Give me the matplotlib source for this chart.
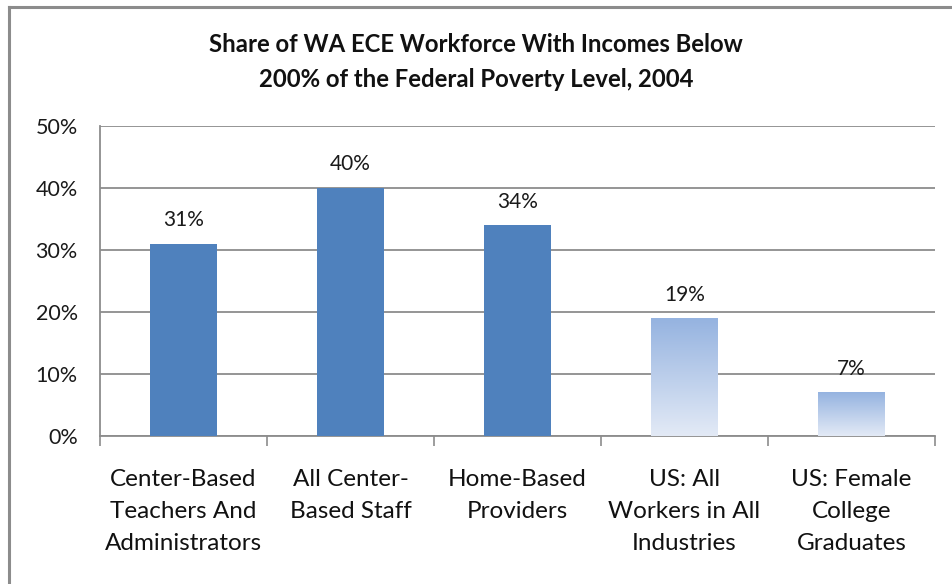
import matplotlib
matplotlib.use("Agg")
import matplotlib.pyplot as plt
import numpy as np
from matplotlib.lines import Line2D
from matplotlib.colors import LinearSegmentedColormap

plt.rcParams['font.family'] = ['Lato', 'DejaVu Sans']

categories = ["Center-Based\nTeachers And\nAdministrators", "All Center-\nBased Staff",
              "Home-Based\nProviders", "US: All\nWorkers in All\nIndustries",
              "US: Female\nCollege\nGraduates"]
values = [31, 40, 34, 19, 7]
gradient = [False, False, False, True, True]
yticks = [0, 10, 20, 30, 40, 50]
title = "Share of WA ECE Workforce With Incomes Below\n200% of the Federal Poverty Level, 2004"

fig = plt.figure(figsize=(9.52, 5.84), dpi=100)
ax = fig.add_axes([100/952, 1-436/584, 835/952, 310/584])

x = np.arange(len(categories))
bars = ax.bar(x, values, width=0.4, color="#4f81bd", zorder=3)
cmap = LinearSegmentedColormap.from_list("g", ["#e3eaf6", "#95b3e0"])
grad = np.linspace(0, 1, 256).reshape(-1, 1)
for b, g in zip(bars, gradient):
    if g:
        b.set_facecolor("none")
        b.set_edgecolor("none")
        x0, y0 = b.get_x(), b.get_y()
        ax.imshow(grad, extent=[x0, x0 + b.get_width(), y0, y0 + b.get_height()],
                  origin="lower", cmap=cmap, aspect="auto", zorder=3)

for xi, v in zip(x, values):
    ax.text(xi, v + 2.2, f"{v}%", ha="center", va="bottom", fontsize=15, color="#1a1a1a")

ax.set_xlim(-0.5, len(categories) - 0.5)
ax.set_ylim(0, 50)
ax.set_yticks(yticks)
ax.set_yticklabels([f"{t}%" for t in yticks], fontsize=15.5, color="#1a1a1a")
ax.set_xticks(x)
ax.set_xticklabels(categories, fontsize=17.5, color="#111111", linespacing=1.65)
ax.set_xticks(np.arange(-0.5, len(categories), 1.0), minor=True)
ax.tick_params(axis="x", which="major", length=0, pad=24)
ax.tick_params(axis="x", which="minor", length=7, width=1.2, color="#8c8c8c", direction="out")
ax.tick_params(axis="y", length=0, pad=16)
ax.grid(axis="y", color="#8c8c8c", linewidth=1.3, zorder=0)
for s in ["top", "right"]:
    ax.spines[s].set_visible(False)
ax.spines["left"].set_color("#8c8c8c")
ax.spines["left"].set_linewidth(1.3)
ax.spines["bottom"].set_color("#8c8c8c")
ax.spines["bottom"].set_linewidth(1.3)

fig.text(476/952, 1-62/584, title, ha="center", va="center", fontsize=17.2,
         fontweight="bold", color="#111111", linespacing=1.58)

fig.add_artist(Line2D([9/952, 9/952], [0, 1-6.5/584], color="#8c8c8c", lw=2.2, transform=fig.transFigure))
fig.add_artist(Line2D([9/952, 1], [1-6.5/584, 1-6.5/584], color="#8c8c8c", lw=2.2, transform=fig.transFigure))

fig.savefig("out.png", dpi=100)
